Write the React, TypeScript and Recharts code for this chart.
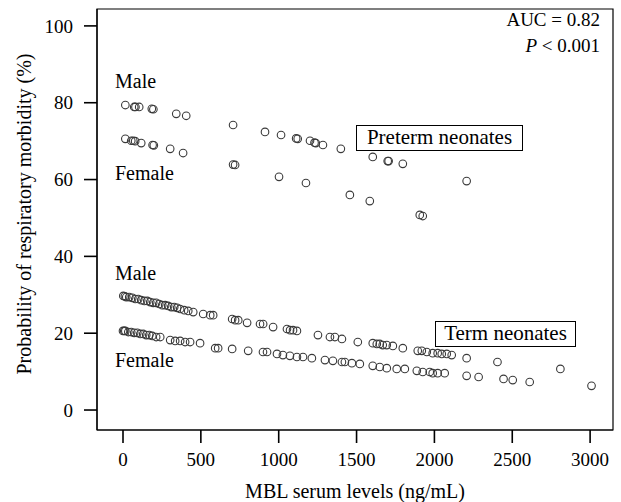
import { ScatterChart, Scatter, XAxis, YAxis, ReferenceArea } from "recharts";

const FONT = "'Liberation Serif', 'DejaVu Serif', serif";

const xTicks = [0, 500, 1000, 1500, 2000, 2500, 3000];
const yTicks = [0, 20, 40, 60, 80, 100];
const X_MIN = -167;
const X_MAX = 3147;
const Y_MIN = -5.2;
const Y_MAX = 104.4;

// [MBL ng/mL, probability %]
const pretermMale: [number, number][] = [
  [15, 79.4], [72, 78.9], [80, 78.9], [104, 78.9], [185, 78.4], [195, 78.3],
  [342, 77.1], [406, 76.6], [707, 74.2], [912, 72.4], [1015, 71.6], [1112, 70.7],
  [1122, 70.6], [1201, 70.1], [1230, 69.6], [1238, 69.5], [1284, 69.0], [1399, 68.0],
  [1604, 65.9], [1700, 64.8], [1706, 64.8], [1797, 64.1], [2207, 59.6],
];

const pretermFemale: [number, number][] = [
  [15, 70.6], [53, 70.1], [66, 70.1], [78, 70.0], [117, 69.5], [190, 69.0],
  [198, 68.9], [303, 68.0], [386, 66.9], [707, 63.9], [720, 63.8], [1002, 60.7],
  [1175, 59.1], [1457, 56.0], [1585, 54.4], [1906, 50.8], [1925, 50.5],
];

const termMale: [number, number][] = [
  [2, 29.7], [12, 29.6], [21, 29.4], [40, 29.4], [60, 29.2], [79, 28.9], [98, 28.9],
  [117, 28.6], [137, 28.4], [156, 28.4], [175, 28.1], [194, 27.9], [213, 27.9],
  [233, 27.6], [252, 27.3], [271, 27.3], [290, 27.1], [310, 26.8], [329, 26.8],
  [348, 26.6], [367, 26.3], [393, 26.0], [419, 25.8], [451, 25.5], [515, 25.0],
  [560, 24.7], [579, 24.7], [701, 23.7], [720, 23.4], [740, 23.4], [797, 22.7],
  [880, 22.4], [900, 22.4], [964, 21.6], [1053, 21.1], [1073, 20.8], [1092, 20.8],
  [1117, 20.6], [1252, 19.5], [1329, 19.0], [1361, 19.0], [1406, 18.5], [1508, 17.7],
  [1604, 17.4], [1630, 17.2], [1649, 17.2], [1668, 16.9], [1694, 16.9], [1733, 16.7],
  [1797, 16.1], [1893, 15.4], [1919, 15.4], [1951, 15.1], [1989, 14.8], [2021, 14.8],
  [2047, 14.6], [2079, 14.6], [2111, 14.3], [2207, 13.5], [2405, 12.5], [2809, 10.7],
];

const termFemale: [number, number][] = [
  [0, 20.6], [8, 20.6], [15, 20.6], [34, 20.3], [53, 20.3], [72, 20.1], [92, 20.1],
  [111, 19.8], [130, 19.8], [149, 19.5], [169, 19.5], [188, 19.3], [213, 19.0],
  [239, 19.0], [303, 18.2], [335, 18.0], [367, 18.0], [399, 17.7], [431, 17.7],
  [495, 17.4], [592, 16.1], [611, 16.1], [701, 15.9], [804, 15.4], [899, 15.1],
  [925, 15.1], [989, 14.6], [1027, 14.3], [1072, 14.1], [1117, 13.8], [1156, 13.8],
  [1213, 13.5], [1297, 13.0], [1348, 12.8], [1406, 12.5], [1425, 12.5], [1470, 12.2],
  [1521, 12.0], [1604, 11.5], [1649, 11.2], [1694, 10.9], [1758, 10.7], [1810, 10.7],
  [1887, 10.2], [1925, 9.9], [1970, 9.9], [1989, 9.6], [2021, 9.6], [2066, 9.6],
  [2207, 8.9], [2284, 8.6], [2444, 8.1], [2503, 7.8], [2612, 7.3], [3009, 6.3],
];

const toPoints = (rows: [number, number][]) => rows.map(([x, y]) => ({ x, y }));

const Ring = (props: any) => (
  <circle cx={props.cx} cy={props.cy} r={3.8} fill="none" stroke="#3a3a3a" strokeWidth={1.1} />
);

const tickStyle = { fontSize: 19, fill: "#000", fontFamily: FONT };

const label = (left: number, top: number, text: string) => (
  <div style={{ position: "absolute", left, top, fontSize: 20, lineHeight: "20px", fontFamily: FONT, whiteSpace: "nowrap" }}>
    {text}
  </div>
);

const boxStyle = {
  position: "absolute" as const,
  height: 26,
  boxSizing: "border-box" as const,
  border: "1.5px solid #000",
  fontSize: 21,
  lineHeight: "23px",
  textAlign: "center" as const,
  fontFamily: FONT,
  background: "#fff",
  whiteSpace: "nowrap" as const,
};

export default function App() {
  return (
    <div style={{ position: "absolute", left: 0, top: 0, width: 621, height: 502, background: "#fff" }}>
      <ScatterChart width={621} height={502} margin={{ top: 9, right: 8, bottom: 0, left: 0 }}>
        <XAxis
          type="number"
          dataKey="x"
          domain={[X_MIN, X_MAX]}
          ticks={xTicks}
          interval={0}
          allowDataOverflow
          height={72}
          tickSize={13}
          tickMargin={10}
          axisLine={{ stroke: "#000", strokeWidth: 1.2 }}
          tickLine={{ stroke: "#000", strokeWidth: 1.6 }}
          tick={tickStyle}
        />
        <YAxis
          type="number"
          dataKey="y"
          domain={[Y_MIN, Y_MAX]}
          ticks={yTicks}
          interval={0}
          allowDataOverflow
          width={97}
          tickSize={13}
          tickMargin={11}
          axisLine={{ stroke: "#000", strokeWidth: 1.2 }}
          tickLine={{ stroke: "#000", strokeWidth: 1.6 }}
          tick={tickStyle}
        />
        <ReferenceArea x1={X_MIN} x2={X_MAX} y1={Y_MIN} y2={Y_MAX} fill="none" stroke="#000" strokeWidth={1.2} ifOverflow="visible" />
        <Scatter data={toPoints(pretermMale)} shape={Ring} isAnimationActive={false} />
        <Scatter data={toPoints(pretermFemale)} shape={Ring} isAnimationActive={false} />
        <Scatter data={toPoints(termMale)} shape={Ring} isAnimationActive={false} />
        <Scatter data={toPoints(termFemale)} shape={Ring} isAnimationActive={false} />
      </ScatterChart>

      {label(115, 71, "Male")}
      {label(115, 163, "Female")}
      {label(115, 263, "Male")}
      {label(115, 350, "Female")}

      <div style={{ ...boxStyle, left: 356, top: 125, width: 167 }}>Preterm neonates</div>
      <div style={{ ...boxStyle, left: 435, top: 321, width: 141 }}>Term neonates</div>

      <div style={{ position: "absolute", right: 21, top: 9, fontSize: 19, lineHeight: "22px", fontFamily: FONT, textAlign: "right" }}>
        <div>AUC = 0.82</div>
        <div style={{ marginTop: 4 }}><i>P</i> &lt; 0.001</div>
      </div>

      <div style={{ position: "absolute", left: 24 - 200, top: 214 - 10, width: 400, height: 20, fontSize: 20, lineHeight: "20px", fontFamily: FONT, textAlign: "center", transform: "rotate(-90deg)", transformOrigin: "200px 10px", whiteSpace: "nowrap" }}>
        Probability of respiratory morbidity (%)
      </div>
      <div style={{ position: "absolute", left: 97, width: 516, top: 481, fontSize: 20, lineHeight: "20px", fontFamily: FONT, textAlign: "center" }}>
        MBL serum levels (ng/mL)
      </div>
    </div>
  );
}
